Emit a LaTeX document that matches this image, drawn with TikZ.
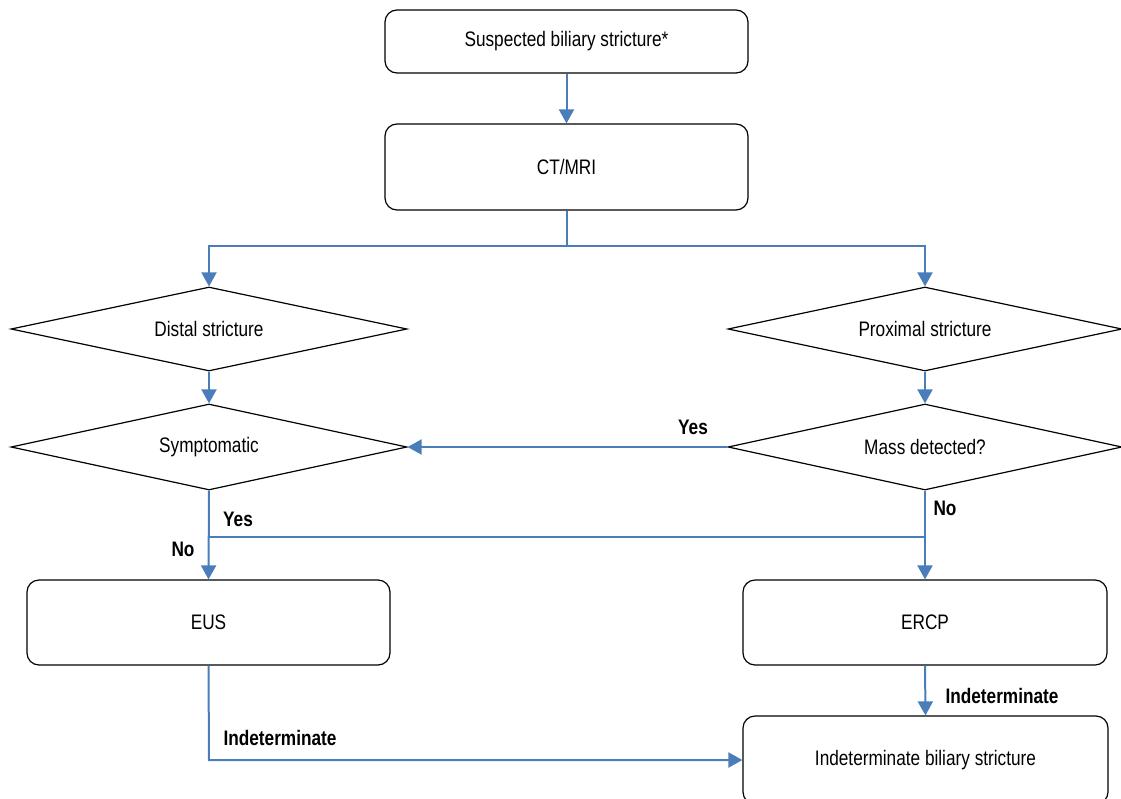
\documentclass[tikz,border=0pt]{standalone}
\usepackage{fontspec}
\setmainfont{Liberation Sans}[FakeStretch=0.82]
\usetikzlibrary{arrows.meta,shapes.geometric}
\definecolor{flowblue}{RGB}{74,126,187}
\tikzset{
  procbox/.style={draw=black, line width=1.2pt, rounded corners=12pt, inner sep=0pt, font=\fontsize{21}{25}\selectfont},
  decision/.style={draw=black, line width=1.2pt, diamond, aspect=4.7, inner sep=0pt, minimum width=396pt, minimum height=84pt, font=\fontsize{21}{25}\selectfont},
  flow/.style={draw=flowblue, line width=2pt, -{Triangle[width=15pt,length=14pt]}},
  flowline/.style={draw=flowblue, line width=2pt},
  lbl/.style={font=\fontsize{21}{25}\selectfont\bfseries, inner sep=0pt}
}
\begin{document}
\begin{tikzpicture}[x=1pt,y=-1pt]
\useasboundingbox (0,0) rectangle (1121,798);
\clip (0,0) rectangle (1121,798);
\node[procbox, minimum width=363pt, minimum height=63pt] (start) at (566.5,41.5) {Suspected biliary stricture*};
\node[procbox, minimum width=363pt, minimum height=86pt] (ct) at (566.5,167) {CT/MRI};
\node[decision] (distal) at (209,329) {Distal stricture};
\node[decision, minimum width=394pt] (prox) at (925,329) {Proximal stricture};
\node[decision, minimum height=86pt] (sympt) at (209,447) {Symptomatic};
\node[decision, minimum width=394pt, minimum height=86pt] (mass) at (925,447) {Mass detected?};
\node[procbox, minimum width=363pt, minimum height=85pt] (eus) at (208.5,622.5) {EUS};
\node[procbox, minimum width=364pt, minimum height=85pt] (ercp) at (925,622.5) {ERCP};
\node[procbox, minimum width=365pt, minimum height=88pt] (ibs) at (925.5,760) {Indeterminate biliary stricture};
\coordinate (split) at (566.5,246);
\coordinate (join) at (209,537);
\coordinate (eusturn) at (209,760);

\draw[flow] (start.south) -- (ct.north);
\draw[flowline] (ct.south) -- (split);
\draw[flow] (split) -| (distal.north);
\draw[flow] (split) -| (prox.north);
\draw[flow] (distal.south) -- (sympt.north);
\draw[flow] (prox.south) -- (mass.north);
\draw[flow] (mass.west) -- (sympt.east);
\draw[flow] (sympt.south) -- (eus.north);
\draw[flowline] (join) -- (join -| mass.south);
\draw[flow] (mass.south) -- (ercp.north);
\draw[flow] (ercp.south) -- (ibs.north);
\draw[flow] (eus.south) -- (eusturn) -- (ibs.west);

\node[lbl] (yes1) at (693,427) {Yes};
\node[lbl] (yes2) at (238,519) {Yes};
\node[lbl] (no1) at (183,549) {No};
\node[lbl] (no2) at (945,508) {No};
\node[lbl] (ind1) at (1002,696) {Indeterminate};
\node[lbl] (ind2) at (280,738) {Indeterminate};
\end{tikzpicture}
\end{document}
